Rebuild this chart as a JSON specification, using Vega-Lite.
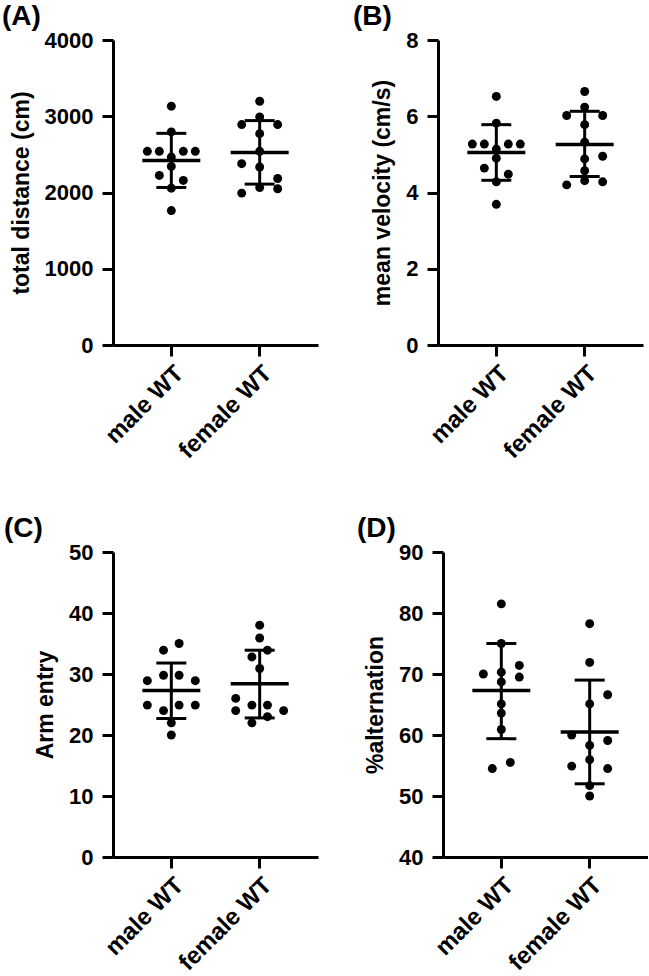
{
  "$schema": "https://vega.github.io/schema/vega-lite/v6.json",
  "padding": {"left": 2, "top": 3, "right": 0, "bottom": 0},
  "background": "white",
  "datasets": {
    "points": [
      {"panel": "A", "group": "male WT", "value": 3132, "jitter": 0},
      {"panel": "A", "group": "male WT", "value": 2795, "jitter": 0},
      {"panel": "A", "group": "male WT", "value": 2540, "jitter": -4},
      {"panel": "A", "group": "male WT", "value": 2540, "jitter": -2},
      {"panel": "A", "group": "male WT", "value": 2540, "jitter": 2},
      {"panel": "A", "group": "male WT", "value": 2540, "jitter": 4},
      {"panel": "A", "group": "male WT", "value": 2465, "jitter": 0},
      {"panel": "A", "group": "male WT", "value": 2342, "jitter": 0},
      {"panel": "A", "group": "male WT", "value": 2224, "jitter": -2},
      {"panel": "A", "group": "male WT", "value": 2158, "jitter": 2},
      {"panel": "A", "group": "male WT", "value": 2057, "jitter": 0},
      {"panel": "A", "group": "male WT", "value": 1763, "jitter": 0},
      {"panel": "A", "group": "female WT", "value": 3197, "jitter": 0},
      {"panel": "A", "group": "female WT", "value": 2992, "jitter": 0},
      {"panel": "A", "group": "female WT", "value": 2891, "jitter": -3},
      {"panel": "A", "group": "female WT", "value": 2891, "jitter": 3},
      {"panel": "A", "group": "female WT", "value": 2772, "jitter": 0},
      {"panel": "A", "group": "female WT", "value": 2540, "jitter": 0},
      {"panel": "A", "group": "female WT", "value": 2378, "jitter": -3},
      {"panel": "A", "group": "female WT", "value": 2334, "jitter": 0},
      {"panel": "A", "group": "female WT", "value": 2184, "jitter": 3},
      {"panel": "A", "group": "female WT", "value": 2066, "jitter": 0},
      {"panel": "A", "group": "female WT", "value": 2049, "jitter": 3},
      {"panel": "A", "group": "female WT", "value": 1992, "jitter": -3},
      {"panel": "B", "group": "male WT", "value": 6.52, "jitter": 0},
      {"panel": "B", "group": "male WT", "value": 5.82, "jitter": 0},
      {"panel": "B", "group": "male WT", "value": 5.27, "jitter": -4},
      {"panel": "B", "group": "male WT", "value": 5.27, "jitter": -2},
      {"panel": "B", "group": "male WT", "value": 5.27, "jitter": 2},
      {"panel": "B", "group": "male WT", "value": 5.27, "jitter": 4},
      {"panel": "B", "group": "male WT", "value": 5.14, "jitter": 0},
      {"panel": "B", "group": "male WT", "value": 4.9, "jitter": 0},
      {"panel": "B", "group": "male WT", "value": 4.64, "jitter": -2},
      {"panel": "B", "group": "male WT", "value": 4.48, "jitter": 2},
      {"panel": "B", "group": "male WT", "value": 4.28, "jitter": 0},
      {"panel": "B", "group": "male WT", "value": 3.69, "jitter": 0},
      {"panel": "B", "group": "female WT", "value": 6.65, "jitter": 0},
      {"panel": "B", "group": "female WT", "value": 6.24, "jitter": 0},
      {"panel": "B", "group": "female WT", "value": 6.02, "jitter": -3},
      {"panel": "B", "group": "female WT", "value": 6.02, "jitter": 3},
      {"panel": "B", "group": "female WT", "value": 5.78, "jitter": 0},
      {"panel": "B", "group": "female WT", "value": 5.32, "jitter": 0},
      {"panel": "B", "group": "female WT", "value": 4.95, "jitter": 3},
      {"panel": "B", "group": "female WT", "value": 4.88, "jitter": 0},
      {"panel": "B", "group": "female WT", "value": 4.57, "jitter": 0},
      {"panel": "B", "group": "female WT", "value": 4.31, "jitter": 0},
      {"panel": "B", "group": "female WT", "value": 4.28, "jitter": 3},
      {"panel": "B", "group": "female WT", "value": 4.2, "jitter": -3},
      {"panel": "C", "group": "male WT", "value": 35.0, "jitter": 1.3},
      {"panel": "C", "group": "male WT", "value": 33.9, "jitter": -1.3},
      {"panel": "C", "group": "male WT", "value": 29.8, "jitter": -1.3},
      {"panel": "C", "group": "male WT", "value": 29.8, "jitter": 1.3},
      {"panel": "C", "group": "male WT", "value": 28.9, "jitter": -4},
      {"panel": "C", "group": "male WT", "value": 28.9, "jitter": 4},
      {"panel": "C", "group": "male WT", "value": 24.9, "jitter": -4},
      {"panel": "C", "group": "male WT", "value": 24.9, "jitter": 1.3},
      {"panel": "C", "group": "male WT", "value": 24.9, "jitter": 4},
      {"panel": "C", "group": "male WT", "value": 24.0, "jitter": -1.3},
      {"panel": "C", "group": "male WT", "value": 22.0, "jitter": 0},
      {"panel": "C", "group": "male WT", "value": 20.0, "jitter": 0},
      {"panel": "C", "group": "female WT", "value": 38.0, "jitter": 0},
      {"panel": "C", "group": "female WT", "value": 35.9, "jitter": 0},
      {"panel": "C", "group": "female WT", "value": 33.9, "jitter": 1.3},
      {"panel": "C", "group": "female WT", "value": 32.8, "jitter": -1.3},
      {"panel": "C", "group": "female WT", "value": 30.9, "jitter": 0},
      {"panel": "C", "group": "female WT", "value": 26.0, "jitter": -4},
      {"panel": "C", "group": "female WT", "value": 24.9, "jitter": -1.3},
      {"panel": "C", "group": "female WT", "value": 24.9, "jitter": 1.3},
      {"panel": "C", "group": "female WT", "value": 24.0, "jitter": -4},
      {"panel": "C", "group": "female WT", "value": 24.0, "jitter": 4},
      {"panel": "C", "group": "female WT", "value": 23.0, "jitter": 1.3},
      {"panel": "C", "group": "female WT", "value": 22.0, "jitter": -1.3},
      {"panel": "D", "group": "male WT", "value": 81.5, "jitter": 0},
      {"panel": "D", "group": "male WT", "value": 75.0, "jitter": 0},
      {"panel": "D", "group": "male WT", "value": 71.4, "jitter": 3},
      {"panel": "D", "group": "male WT", "value": 70.3, "jitter": 0},
      {"panel": "D", "group": "male WT", "value": 70.0, "jitter": -3},
      {"panel": "D", "group": "male WT", "value": 69.5, "jitter": 3},
      {"panel": "D", "group": "male WT", "value": 68.7, "jitter": 0},
      {"panel": "D", "group": "male WT", "value": 65.1, "jitter": 0},
      {"panel": "D", "group": "male WT", "value": 63.6, "jitter": 0},
      {"panel": "D", "group": "male WT", "value": 60.9, "jitter": 0},
      {"panel": "D", "group": "male WT", "value": 55.5, "jitter": 1.5},
      {"panel": "D", "group": "male WT", "value": 54.5, "jitter": -1.5},
      {"panel": "D", "group": "female WT", "value": 78.25, "jitter": 0},
      {"panel": "D", "group": "female WT", "value": 71.9, "jitter": 0},
      {"panel": "D", "group": "female WT", "value": 66.6, "jitter": 3},
      {"panel": "D", "group": "female WT", "value": 65.1, "jitter": 0},
      {"panel": "D", "group": "female WT", "value": 60.0, "jitter": -3},
      {"panel": "D", "group": "female WT", "value": 59.1, "jitter": 3},
      {"panel": "D", "group": "female WT", "value": 58.3, "jitter": 0},
      {"panel": "D", "group": "female WT", "value": 55.95, "jitter": 0},
      {"panel": "D", "group": "female WT", "value": 54.9, "jitter": -3},
      {"panel": "D", "group": "female WT", "value": 54.5, "jitter": 3},
      {"panel": "D", "group": "female WT", "value": 51.7, "jitter": 0},
      {"panel": "D", "group": "female WT", "value": 50.0, "jitter": 0}
    ],
    "summary": [
      {"panel": "A", "group": "male WT", "mean": 2421, "lo": 2066, "hi": 2776},
      {"panel": "A", "group": "female WT", "mean": 2526, "lo": 2110, "hi": 2943},
      {"panel": "B", "group": "male WT", "mean": 5.05, "lo": 4.32, "hi": 5.78},
      {"panel": "B", "group": "female WT", "mean": 5.26, "lo": 4.42, "hi": 6.13},
      {"panel": "C", "group": "male WT", "mean": 27.3, "lo": 22.7, "hi": 31.8},
      {"panel": "C", "group": "female WT", "mean": 28.4, "lo": 22.8, "hi": 33.9},
      {"panel": "D", "group": "male WT", "mean": 67.3, "lo": 59.4, "hi": 75.0},
      {"panel": "D", "group": "female WT", "mean": 60.5, "lo": 52.0, "hi": 69.0}
    ]
  },
  "vconcat": [
    {
      "spacing": 35,
      "hconcat": [
        {
          "width": 205, "height": 305,
          "title": {"text": "(A)", "dx": -111},
          "layer": [
            {
              "data": {"name": "points"},
              "transform": [{"filter": "datum.panel === 'A'"}],
              "mark": {"type": "circle", "size": 80, "opacity": 1, "color": "black"},
              "encoding": {
                "x": {"field": "group", "type": "nominal", "sort": ["male WT", "female WT"], "title": null,
                      "scale": {"paddingInner": 0, "paddingOuter": 0.16},
                      "axis": {"labelAngle": -45, "labelPadding": 5, "labelFontSize": 24}},
                "xOffset": {"field": "jitter", "type": "quantitative", "scale": {"domain": [-7.37, 7.37]}},
                "y": {"field": "value", "type": "quantitative", "title": "total distance (cm)",
                      "scale": {"domain": [0, 4000], "nice": false},
                      "axis": {"values": [0, 1000, 2000, 3000, 4000], "format": "d"}}
              }
            },
            {
              "data": {"name": "summary"},
              "transform": [{"filter": "datum.panel === 'A'"}],
              "mark": {"type": "rule", "strokeWidth": 3, "color": "black"},
              "encoding": {
                "x": {"field": "group", "type": "nominal", "sort": ["male WT", "female WT"], "title": null},
                "y": {"field": "lo", "type": "quantitative", "title": "total distance (cm)"},
                "y2": {"field": "hi"}
              }
            },
            {
              "data": {"name": "summary"},
              "transform": [{"filter": "datum.panel === 'A'"}],
              "mark": {"type": "tick", "orient": "horizontal", "size": 58, "thickness": 3.5, "color": "black", "opacity": 1},
              "encoding": {
                "x": {"field": "group", "type": "nominal", "sort": ["male WT", "female WT"], "title": null},
                "y": {"field": "mean", "type": "quantitative", "title": "total distance (cm)"}
              }
            },
            {
              "data": {"name": "summary"},
              "transform": [{"filter": "datum.panel === 'A'"}],
              "mark": {"type": "tick", "orient": "horizontal", "size": 30, "thickness": 3, "color": "black", "opacity": 1},
              "encoding": {
                "x": {"field": "group", "type": "nominal", "sort": ["male WT", "female WT"], "title": null},
                "y": {"field": "lo", "type": "quantitative", "title": "total distance (cm)"}
              }
            },
            {
              "data": {"name": "summary"},
              "transform": [{"filter": "datum.panel === 'A'"}],
              "mark": {"type": "tick", "orient": "horizontal", "size": 30, "thickness": 3, "color": "black", "opacity": 1},
              "encoding": {
                "x": {"field": "group", "type": "nominal", "sort": ["male WT", "female WT"], "title": null},
                "y": {"field": "hi", "type": "quantitative", "title": "total distance (cm)"}
              }
            }
          ]
        },
        {
          "width": 205, "height": 305,
          "title": {"text": "(B)", "dx": -85},
          "layer": [
            {
              "data": {"name": "points"},
              "transform": [{"filter": "datum.panel === 'B'"}],
              "mark": {"type": "circle", "size": 80, "opacity": 1, "color": "black"},
              "encoding": {
                "x": {"field": "group", "type": "nominal", "sort": ["male WT", "female WT"], "title": null,
                      "scale": {"paddingInner": 0, "paddingOuter": 0.16},
                      "axis": {"labelAngle": -45, "labelPadding": 5, "labelFontSize": 24}},
                "xOffset": {"field": "jitter", "type": "quantitative", "scale": {"domain": [-7.37, 7.37]}},
                "y": {"field": "value", "type": "quantitative", "title": "mean velocity (cm/s)",
                      "scale": {"domain": [0, 8], "nice": false},
                      "axis": {"values": [0, 2, 4, 6, 8]}}
              }
            },
            {
              "data": {"name": "summary"},
              "transform": [{"filter": "datum.panel === 'B'"}],
              "mark": {"type": "rule", "strokeWidth": 3, "color": "black"},
              "encoding": {
                "x": {"field": "group", "type": "nominal", "sort": ["male WT", "female WT"], "title": null},
                "y": {"field": "lo", "type": "quantitative", "title": "mean velocity (cm/s)"},
                "y2": {"field": "hi"}
              }
            },
            {
              "data": {"name": "summary"},
              "transform": [{"filter": "datum.panel === 'B'"}],
              "mark": {"type": "tick", "orient": "horizontal", "size": 58, "thickness": 3.5, "color": "black", "opacity": 1},
              "encoding": {
                "x": {"field": "group", "type": "nominal", "sort": ["male WT", "female WT"], "title": null},
                "y": {"field": "mean", "type": "quantitative", "title": "mean velocity (cm/s)"}
              }
            },
            {
              "data": {"name": "summary"},
              "transform": [{"filter": "datum.panel === 'B'"}],
              "mark": {"type": "tick", "orient": "horizontal", "size": 30, "thickness": 3, "color": "black", "opacity": 1},
              "encoding": {
                "x": {"field": "group", "type": "nominal", "sort": ["male WT", "female WT"], "title": null},
                "y": {"field": "lo", "type": "quantitative", "title": "mean velocity (cm/s)"}
              }
            },
            {
              "data": {"name": "summary"},
              "transform": [{"filter": "datum.panel === 'B'"}],
              "mark": {"type": "tick", "orient": "horizontal", "size": 30, "thickness": 3, "color": "black", "opacity": 1},
              "encoding": {
                "x": {"field": "group", "type": "nominal", "sort": ["male WT", "female WT"], "title": null},
                "y": {"field": "hi", "type": "quantitative", "title": "mean velocity (cm/s)"}
              }
            }
          ]
        }
      ]
    },
    {
      "spacing": 39,
      "hconcat": [
        {
          "width": 205, "height": 305,
          "title": {"text": "(C)", "dx": -109},
          "layer": [
            {
              "data": {"name": "points"},
              "transform": [{"filter": "datum.panel === 'C'"}],
              "mark": {"type": "circle", "size": 80, "opacity": 1, "color": "black"},
              "encoding": {
                "x": {"field": "group", "type": "nominal", "sort": ["male WT", "female WT"], "title": null,
                      "scale": {"paddingInner": 0, "paddingOuter": 0.16},
                      "axis": {"labelAngle": -45, "labelPadding": 5, "labelFontSize": 24}},
                "xOffset": {"field": "jitter", "type": "quantitative", "scale": {"domain": [-7.37, 7.37]}},
                "y": {"field": "value", "type": "quantitative", "title": "Arm entry",
                      "scale": {"domain": [0, 50], "nice": false},
                      "axis": {"values": [0, 10, 20, 30, 40, 50]}}
              }
            },
            {
              "data": {"name": "summary"},
              "transform": [{"filter": "datum.panel === 'C'"}],
              "mark": {"type": "rule", "strokeWidth": 3, "color": "black"},
              "encoding": {
                "x": {"field": "group", "type": "nominal", "sort": ["male WT", "female WT"], "title": null},
                "y": {"field": "lo", "type": "quantitative", "title": "Arm entry"},
                "y2": {"field": "hi"}
              }
            },
            {
              "data": {"name": "summary"},
              "transform": [{"filter": "datum.panel === 'C'"}],
              "mark": {"type": "tick", "orient": "horizontal", "size": 58, "thickness": 3.5, "color": "black", "opacity": 1},
              "encoding": {
                "x": {"field": "group", "type": "nominal", "sort": ["male WT", "female WT"], "title": null},
                "y": {"field": "mean", "type": "quantitative", "title": "Arm entry"}
              }
            },
            {
              "data": {"name": "summary"},
              "transform": [{"filter": "datum.panel === 'C'"}],
              "mark": {"type": "tick", "orient": "horizontal", "size": 30, "thickness": 3, "color": "black", "opacity": 1},
              "encoding": {
                "x": {"field": "group", "type": "nominal", "sort": ["male WT", "female WT"], "title": null},
                "y": {"field": "lo", "type": "quantitative", "title": "Arm entry"}
              }
            },
            {
              "data": {"name": "summary"},
              "transform": [{"filter": "datum.panel === 'C'"}],
              "mark": {"type": "tick", "orient": "horizontal", "size": 30, "thickness": 3, "color": "black", "opacity": 1},
              "encoding": {
                "x": {"field": "group", "type": "nominal", "sort": ["male WT", "female WT"], "title": null},
                "y": {"field": "hi", "type": "quantitative", "title": "Arm entry"}
              }
            }
          ]
        },
        {
          "width": 205, "height": 305,
          "title": {"text": "(D)", "dx": -86},
          "layer": [
            {
              "data": {"name": "points"},
              "transform": [{"filter": "datum.panel === 'D'"}],
              "mark": {"type": "circle", "size": 80, "opacity": 1, "color": "black"},
              "encoding": {
                "x": {"field": "group", "type": "nominal", "sort": ["male WT", "female WT"], "title": null,
                      "scale": {"paddingInner": 0, "paddingOuter": 0.16},
                      "axis": {"labelAngle": -45, "labelPadding": 5, "labelFontSize": 24}},
                "xOffset": {"field": "jitter", "type": "quantitative", "scale": {"domain": [-7.37, 7.37]}},
                "y": {"field": "value", "type": "quantitative", "title": "%alternation",
                      "scale": {"domain": [40, 90], "nice": false, "zero": false},
                      "axis": {"values": [40, 50, 60, 70, 80, 90]}}
              }
            },
            {
              "data": {"name": "summary"},
              "transform": [{"filter": "datum.panel === 'D'"}],
              "mark": {"type": "rule", "strokeWidth": 3, "color": "black"},
              "encoding": {
                "x": {"field": "group", "type": "nominal", "sort": ["male WT", "female WT"], "title": null},
                "y": {"field": "lo", "type": "quantitative", "title": "%alternation"},
                "y2": {"field": "hi"}
              }
            },
            {
              "data": {"name": "summary"},
              "transform": [{"filter": "datum.panel === 'D'"}],
              "mark": {"type": "tick", "orient": "horizontal", "size": 58, "thickness": 3.5, "color": "black", "opacity": 1},
              "encoding": {
                "x": {"field": "group", "type": "nominal", "sort": ["male WT", "female WT"], "title": null},
                "y": {"field": "mean", "type": "quantitative", "title": "%alternation"}
              }
            },
            {
              "data": {"name": "summary"},
              "transform": [{"filter": "datum.panel === 'D'"}],
              "mark": {"type": "tick", "orient": "horizontal", "size": 30, "thickness": 3, "color": "black", "opacity": 1},
              "encoding": {
                "x": {"field": "group", "type": "nominal", "sort": ["male WT", "female WT"], "title": null},
                "y": {"field": "lo", "type": "quantitative", "title": "%alternation"}
              }
            },
            {
              "data": {"name": "summary"},
              "transform": [{"filter": "datum.panel === 'D'"}],
              "mark": {"type": "tick", "orient": "horizontal", "size": 30, "thickness": 3, "color": "black", "opacity": 1},
              "encoding": {
                "x": {"field": "group", "type": "nominal", "sort": ["male WT", "female WT"], "title": null},
                "y": {"field": "hi", "type": "quantitative", "title": "%alternation"}
              }
            }
          ]
        }
      ]
    }
  ],
  "spacing": 52,
  "config": {
    "view": {"stroke": null},
    "axis": {
      "grid": false,
      "domainColor": "black", "domainWidth": 3,
      "tickColor": "black", "tickWidth": 3, "tickSize": 11,
      "labelFont": "Liberation Sans", "labelFontWeight": "bold", "labelFontSize": 22, "labelColor": "black",
      "labelPadding": 9,
      "titleFont": "Liberation Sans", "titleFontWeight": "bold", "titleFontSize": 23, "titleColor": "black",
      "titlePadding": 11
    },
    "title": {
      "font": "Liberation Sans", "fontWeight": "bold", "fontSize": 28, "color": "black",
      "anchor": "start", "frame": "group", "offset": -2
    }
  }
}
